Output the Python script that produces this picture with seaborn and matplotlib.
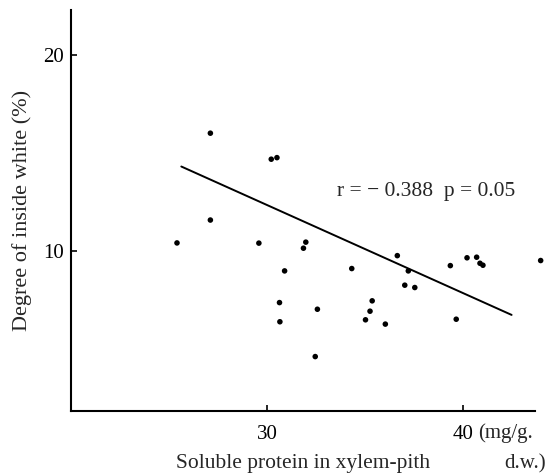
import numpy as np
import pandas as pd
import seaborn as sns
import matplotlib.pyplot as plt

# data
protein = [25.42, 27.12, 27.12, 29.59, 30.22, 30.51, 31.98, 31.86, 30.90, 30.64,
           30.66, 32.57, 32.46, 34.32, 36.64, 37.20, 37.02, 37.53, 35.36, 35.25,
           35.02, 36.03, 39.34, 40.19, 40.68, 40.85, 41.00, 39.64, 43.94]
inside_white = [10.39, 16.00, 11.56, 10.38, 14.67, 14.75, 10.43, 10.12, 8.96, 7.34,
                6.36, 7.00, 4.58, 9.08, 9.74, 8.96, 8.23, 8.11, 7.43, 6.90,
                6.46, 6.24, 9.23, 9.63, 9.66, 9.35, 9.25, 6.49, 9.49]
# regression line as drawn
line_x = [25.64, 42.46]
slope, intercept = -0.451, 25.86
x_ticks = [30, 40]
y_ticks = [10, 20]

df = pd.DataFrame({'protein': protein, 'white': inside_white})

sns.set_style('ticks')
plt.rcParams['font.family'] = ['Liberation Serif', 'DejaVu Serif']

fig = plt.figure(figsize=(5.47, 4.74), dpi=100)
ax = fig.add_axes([0.129, 0.133, 0.849, 0.846])

sns.scatterplot(data=df, x='protein', y='white', ax=ax, color='black',
                s=16, edgecolor='none', clip_on=False)
lx = np.array(line_x)
ax.plot(lx, intercept + slope * lx, color='black', lw=1.4)

ax.set_xlim(20, 43.65)
ax.set_ylim(1.8, 22.3)
ax.set_xticks(x_ticks)
ax.set_yticks(y_ticks)
ax.tick_params(direction='in', length=4, width=1.2, labelsize=15,
               colors='black')
ax.tick_params(axis='x', pad=10)
ax.tick_params(axis='y', pad=5)
sns.despine(ax=ax)
for sp in ['left', 'bottom']:
    ax.spines[sp].set_linewidth(1.5)
    ax.spines[sp].set_color('black')

ax.set_xlabel('Soluble protein in xylem-pith', fontsize=15.5, labelpad=7)
ax.set_ylabel('Degree of inside white (%)', fontsize=16, labelpad=8)

# unit, split over two lines next to the "40" tick label
ax.annotate('(mg/g.', xy=(40, 0), xycoords=('data', 'axes fraction'),
            xytext=(11, -16), textcoords='offset points', fontsize=15,
            ha='left', va='center', annotation_clip=False)
fig.text(0.998, 0.022, 'd.w.)', fontsize=15, ha='right', va='center')

ax.text(38.1, 13.0, 'r = \u2212 0.388  p = 0.05', fontsize=15.5,
        ha='center', va='center')

fig.savefig('out.png', dpi=100)
